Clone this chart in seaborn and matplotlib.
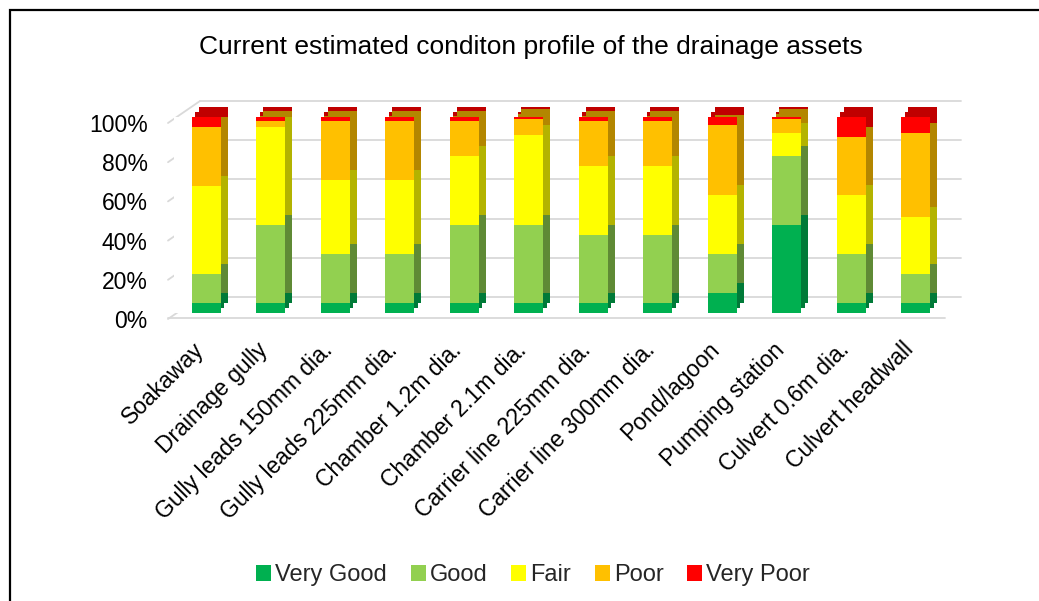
import numpy as np
import matplotlib
matplotlib.use("Agg")
import matplotlib.pyplot as plt
import matplotlib.transforms as mtransforms
from matplotlib.patches import Patch, Rectangle
from matplotlib.ticker import PercentFormatter
import seaborn as sns

# asset condition shares (%)
assets = ["Soakaway", "Drainage gully", "Gully leads 150mm dia.", "Gully leads 225mm dia.",
          "Chamber 1.2m dia.", "Chamber 2.1m dia.", "Carrier line 225mm dia.",
          "Carrier line 300mm dia.", "Pond/lagoon", "Pumping station",
          "Culvert 0.6m dia.", "Culvert headwall"]
very_good = [5, 5, 5, 5, 5, 5, 5, 5, 10, 45, 5, 5]
good = [15, 40, 25, 25, 40, 40, 35, 35, 20, 35, 25, 15]
fair = [45, 50, 38, 38, 35, 46, 35, 35, 30, 12, 30, 29]
poor = [30, 3, 30, 30, 18, 8, 23, 23, 36, 7, 30, 43]
very_poor = [5, 2, 2, 2, 2, 1, 2, 2, 4, 1, 10, 8]

series = ["Very Good", "Good", "Fair", "Poor", "Very Poor"]
colors = ["#00B050", "#92D050", "#FFFF00", "#FFC000", "#FF0000"]
dark = ["#007A38", "#5F8A35", "#B3B300", "#B38600", "#C00000"]

sns.set_theme(style="white")
plt.rcParams["font.family"] = ["Liberation Sans", "DejaVu Sans"]

W, H = 1039, 601
fig = plt.figure(figsize=(10.39, 6.01), dpi=100)
ax = fig.add_axes([174 / W, (H - 313) / H, 774 / W, 196 / H])


def px(dx, dy):
    return mtransforms.ScaledTranslation(dx / 100, dy / 100, fig.dpi_scale_trans)


# cumulative heights for stacking (as fractions)
vals = np.array([very_good, good, fair, poor, very_poor]) / 100
cum = np.cumsum(vals, axis=0)

# shifted dark copies give the 3D side/top look, then the front faces
for shift, zo in [((3.5, 5), 1), ((7, 10), 1), (None, 2)]:
    for i in range(4, -1, -1):
        n0 = len(ax.patches)
        sns.barplot(x=assets, y=cum[i], color=colors[i] if shift is None else dark[i],
                    width=0.45, saturation=1, ax=ax, zorder=zo)
        for p in ax.patches[n0:]:
            p.set_linewidth(0)
            p.set_clip_on(False)
            if shift is not None:
                p.set_transform(ax.transData + px(*shift))

ax.set_ylim(0, 1)
ax.set_xlim(-0.5, len(assets) - 0.5)
ticks = np.arange(0, 1.01, 0.2)
ax.set_yticks(ticks)
ax.yaxis.set_major_formatter(PercentFormatter(1.0, decimals=0))
sns.despine(ax=ax, left=True, bottom=True)
ax.set_xlabel("")
ax.set_ylabel("")

# back wall gridlines, side wall lines and floor edge
gc = "#D9D9D9"
yt = ax.get_yaxis_transform()
for v in ticks:
    ax.plot([0.034, 1.017], [v, v], transform=yt + px(0, 16), color=gc, lw=1.3,
            zorder=0, clip_on=False)
    x0, y0 = ax.transData.transform((-0.5, v))
    pts = fig.transFigure.inverted().transform([[x0 - 6, y0 - 6], [x0 + 26, y0 + 16]])
    fig.add_artist(plt.Line2D(pts[:, 0], pts[:, 1], color=gc, lw=1.3, zorder=0))
ax.plot([-0.008, 0.996], [0, 0], transform=yt + px(0, -5), color=gc, lw=1.3,
        zorder=0, clip_on=False)

ax.tick_params(axis="y", length=0, pad=19, labelsize=16.5, labelcolor="black")
for lab in ax.get_yticklabels():
    lab.set_transform(lab.get_transform() + px(0, -6))
ax.tick_params(axis="x", length=0, pad=24, labelsize=16.5, labelcolor="black")
for lab in ax.get_xticklabels():
    lab.set_rotation(45)
    lab.set_ha("right")
    lab.set_va("center")
    lab.set_rotation_mode("anchor")
    lab.set_transform(lab.get_transform() + px(-6, 0))

fig.text(531 / W, 1 - 47 / H, "Current estimated conditon profile of the drainage assets",
         ha="center", va="center", fontsize=19, color="black")

handles = [Patch(facecolor=c, edgecolor="none") for c in colors]
fig.legend(handles, series, loc="center", bbox_to_anchor=(533 / W, 1 - 575 / H),
           ncol=5, frameon=False, fontsize=17, handlelength=0.64, handleheight=0.64,
           handletextpad=0.17, columnspacing=1.0, borderpad=0, borderaxespad=0)

# outer chart frame (right/bottom edges lie outside the image)
fig.add_artist(Rectangle((10 / W, -0.1), 1.2, 1.1 - 10 / H, transform=fig.transFigure,
                         fill=False, edgecolor="black", lw=1.6))

fig.savefig("out.png", dpi=100)
